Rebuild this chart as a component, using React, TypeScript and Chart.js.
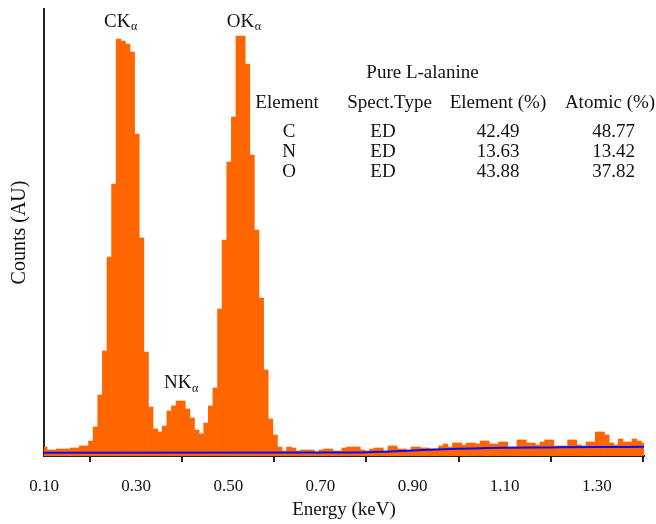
import React, { useEffect, useRef } from 'react';
import { Chart, registerables } from 'chart.js';

Chart.register(...registerables);

// Histogram bins: 0.01 keV wide, first bin centred at 0.1017 keV
const BIN_START = 0.1017;
const BIN_WIDTH = 0.01;

// Counts (arbitrary units) per bin
const COUNTS = [
  9, 6, 6, 7, 7, 7, 8, 8, 10, 10,
  15, 29, 61, 105, 199, 272, 417, 415, 412, 404,
  322, 218, 104, 49, 27, 24, 30, 45, 50, 55,
  55, 47, 38, 26, 22, 33, 50, 68, 147, 216,
  294, 339, 420, 420, 392, 301, 226, 158, 86, 37,
  21, 9, 5, 9, 8, 5, 6, 6, 6, 4,
  6, 7, 7, 5, 5, 8, 9, 9, 9, 6,
  5, 7, 8, 8, 5, 10, 10, 7, 7, 5,
  9, 9, 8, 8, 7, 7, 10, 12, 9, 13,
  13, 11, 13, 13, 12, 15, 15, 12, 12, 14,
  14, 9, 9, 16, 16, 13, 13, 11, 14, 16,
  16, 10, 10, 10, 16, 16, 11, 10, 14, 14,
  24, 24, 21, 13, 11, 17, 14, 14, 17, 15,
  13,
];
const ENERGY = COUNTS.map((_, i) => +(BIN_START + i * BIN_WIDTH).toFixed(4));

// Background (blue) fit line
const BG_ENERGY = [0.10, 0.78, 0.85, 0.90, 0.95, 1.00, 1.05, 1.10, 1.20, 1.30, 1.41];
const BG_COUNTS = [3.3, 3.4, 4.5, 5.6, 6.5, 7.2, 7.8, 8.3, 8.6, 8.9, 9.2];

const X_MIN = 0.10;
const X_MAX = 1.4025;
const Y_MAX = 447;
const X_TICKS = [0.10, 0.30, 0.50, 0.70, 0.90, 1.10, 1.30];

const PEAK_LABELS = ['CK', 'NK', 'OK'];
const PEAK_LABEL_E = [0.2303, 0.3605, 0.4967];
const PEAK_LABEL_Y = [429.3, 67.7, 429.3];

const TABLE_TITLE = 'Pure L-alanine';
const TABLE_HEADERS = ['Element', 'Spect.Type', 'Element (%)', 'Atomic (%)'];
const ELEMENTS = ['C', 'N', 'O'];
const SPECT_TYPES = ['ED', 'ED', 'ED'];
const ELEMENT_PCT = ['42.49', '13.63', '43.88'];
const ATOMIC_PCT = ['48.77', '13.42', '37.82'];

const FONT = '"Liberation Serif", "Times New Roman", serif';

const annotate = {
  id: 'annotate',
  afterDatasetsDraw(chart: any) {
    const { ctx } = chart;
    const xs = chart.scales.x;
    const ys = chart.scales.y;
    ctx.save();
    ctx.fillStyle = '#111';
    ctx.textBaseline = 'alphabetic';
    ctx.textAlign = 'left';
    PEAK_LABELS.forEach((t, i) => {
      const x = xs.getPixelForValue(PEAK_LABEL_E[i]);
      const y = ys.getPixelForValue(PEAK_LABEL_Y[i]);
      ctx.font = `19px ${FONT}`;
      ctx.fillText(t, x, y);
      const w = ctx.measureText(t).width;
      ctx.font = `12px ${FONT}`;
      ctx.fillText('α', x + w + 0.5, y + 3.5);
    });

    ctx.font = `19px ${FONT}`;
    ctx.textAlign = 'center';
    const area = chart.chartArea;
    const ox = area.left;
    const oy = area.top;
    ctx.fillText(TABLE_TITLE, ox + 378.5, oy + 69.3);
    const headerX = [243, 345.5, 454, 566];
    const dataX = [245, 339, 454, 569.5];
    TABLE_HEADERS.forEach((h, i) => ctx.fillText(h, ox + headerX[i], oy + 99.3));
    ELEMENTS.forEach((e, r) => {
      const y = oy + 127.7 + r * 20;
      [e, SPECT_TYPES[r], ELEMENT_PCT[r], ATOMIC_PCT[r]].forEach((v, c) =>
        ctx.fillText(v, ox + dataX[c], y)
      );
    });
    ctx.restore();
  },
};

export default function App() {
  const ref = useRef<HTMLCanvasElement | null>(null);

  useEffect(() => {
    if (!ref.current) return;
    Chart.defaults.font.family = FONT;
    const chart = new Chart(ref.current, {
      type: 'bar',
      data: {
        datasets: [
          {
            type: 'line',
            data: BG_ENERGY.map((x, i) => ({ x, y: BG_COUNTS[i] })),
            borderColor: '#0a0aff',
            borderWidth: 2,
            pointRadius: 0,
            fill: false,
            cubicInterpolationMode: 'monotone',
            order: 0,
          } as any,
          {
            type: 'bar',
            data: ENERGY.map((x, i) => ({ x, y: COUNTS[i] })),
            backgroundColor: '#ff6600',
            borderWidth: 0,
            barPercentage: 1,
            categoryPercentage: 1,
            order: 1,
          } as any,
        ],
      },
      options: {
        responsive: false,
        animation: false,
        devicePixelRatio: 1,
        layout: { padding: { top: 9, right: 12, left: 0, bottom: 0 } },
        plugins: { legend: { display: false }, tooltip: { enabled: false } },
        scales: {
          x: {
            type: 'linear',
            min: X_MIN,
            max: X_MAX,
            offset: false,
            afterBuildTicks: (s: any) => {
              s.ticks = X_TICKS.map((v) => ({ value: v }));
            },
            afterFit: (s: any) => {
              s.height = 68;
            },
            grid: {
              display: true,
              drawOnChartArea: false,
              drawTicks: true,
              tickLength: 6,
              tickWidth: 2,
              tickColor: '#222',
              color: '#222',
              lineWidth: 2,
            },
            border: { display: true, color: '#222', width: 2 },
            ticks: {
              color: '#111',
              font: { family: FONT, size: 17 },
              padding: 14,
              maxRotation: 0,
              autoSkip: false,
              callback: (v: any) => Number(v).toFixed(2),
            },
            title: {
              display: true,
              text: 'Energy (keV)',
              color: '#111',
              font: { family: FONT, size: 19 },
              padding: { top: 0, bottom: 3 },
            },
          },
          y: {
            min: 0,
            max: Y_MAX,
            afterFit: (s: any) => {
              s.width = 44;
            },
            grid: { display: false },
            border: { display: true, color: '#222', width: 2 },
            ticks: { display: false },
            title: {
              display: true,
              text: 'Counts (AU)',
              color: '#111',
              font: { family: FONT, size: 20 },
              padding: { top: 8, bottom: 0 },
            },
          },
        },
      } as any,
      plugins: [annotate],
    });
    return () => chart.destroy();
  }, []);

  return (
    <div style={{ position: 'fixed', left: 0, top: 0, width: 656, height: 524, background: '#fff' }}>
      <canvas ref={ref} width={656} height={524} style={{ display: 'block' }} />
    </div>
  );
}
